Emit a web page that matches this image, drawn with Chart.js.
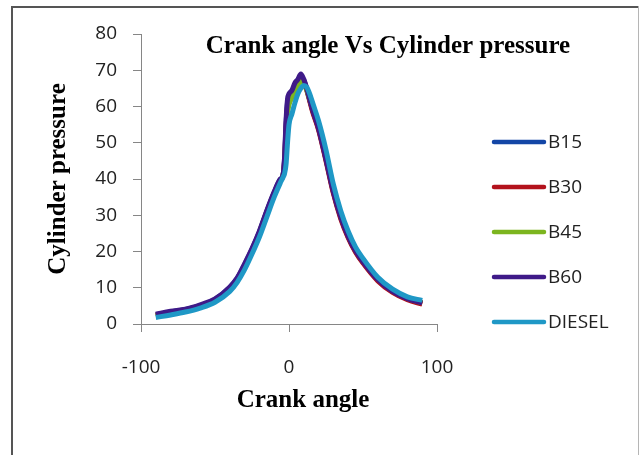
<!DOCTYPE html>
<html>
<head>
<meta charset="utf-8">
<title>Crank angle Vs Cylinder pressure</title>
<script src="https://cdn.jsdelivr.net/npm/chart.js@4.4.1/dist/chart.umd.min.js"></script>
<style>
  html, body { margin: 0; padding: 0; background: #fff; }
  #wrap { width: 641px; height: 455px; position: relative; }
</style>
</head>
<body>
<div id="wrap"><canvas id="myChart"></canvas></div>
<script>
// crank angle (deg) shared by all series
const angles = [-90, -80, -70, -60, -50, -40, -35, -30, -25, -20, -15, -10, -6, -4, -3, -2, -1, 0,
  2, 4, 6, 8, 10, 12, 14, 16, 20, 25, 30, 35, 40, 45, 50, 60, 70, 80, 90];

// cylinder pressure for each fuel
const b15 = [2.5, 3.3, 4.0, 5.1, 6.8, 10.1, 12.6, 16.4, 20.6, 25.4, 31.1, 36.3, 39.8, 41.2, 45.5, 55, 61, 63,
  64, 66, 67.2, 68.3, 67.2, 64.8, 61.8, 58.8, 53.8, 45.3, 36.3, 29.3, 24, 20, 17, 12.1, 8.9, 6.9, 5.7];
const b30 = [2.4, 3.2, 3.9, 5.0, 6.6, 9.9, 12.4, 16.1, 20.4, 25.2, 30.9, 36.1, 39.6, 41.1, 45, 54, 60, 62,
  63.5, 65.5, 66.8, 67.8, 66.8, 64.5, 61.5, 58.5, 53.5, 45, 36, 29, 23.8, 19.8, 16.8, 11.9, 8.7, 6.7, 5.5];
const b45 = [2.2, 3.0, 3.8, 4.9, 6.5, 9.7, 12.2, 15.8, 20.1, 24.9, 30.5, 35.8, 39.4, 41, 44, 52, 58, 60.5,
  62.5, 64.5, 66, 66.8, 66.3, 64.5, 62, 59.5, 54.8, 46.5, 37.4, 30.2, 24.8, 20.7, 17.6, 12.5, 9.2, 7.1, 5.9];
const b60 = [2.7, 3.5, 4.1, 5.3, 6.9, 10.2, 12.7, 16.6, 20.8, 25.6, 31.3, 36.5, 39.9, 41.2, 46, 56, 62, 63.5,
  64.5, 66.5, 67.5, 69, 67.5, 65, 62, 59, 54, 45.5, 36.5, 29.5, 24.2, 20.2, 17.2, 12.3, 9.0, 7.0, 5.8];
const diesel = [1.8, 2.5, 3.3, 4.4, 6.0, 9.0, 11.5, 15.0, 19.3, 24.0, 29.5, 35.0, 38.8, 40.5, 41.5, 44, 50, 55,
  58, 61, 63.5, 65, 65.8, 65.3, 63.5, 61, 56, 48, 38.5, 31.2, 25.6, 21.2, 18.1, 12.9, 9.6, 7.5, 6.5];

const seriesNames = ['B15', 'B30', 'B45', 'B60', 'DIESEL'];
const seriesValues = [b15, b30, b45, b60, diesel];
const seriesColors = ['#1346a6', '#b3121c', '#7cb51f', '#3f1a88', '#1f98c6'];

const xTicks = [-100, 0, 100];
const yTicks = [0, 10, 20, 30, 40, 50, 60, 70, 80];

const tickFont = { family: 'Open Sans', size: 19 };
const serifBold = 'bold 25px "Liberation Serif"';

// frame, title, x axis title and legend drawn on the canvas
const decor = {
  id: 'decor',
  beforeDraw(chart) {
    const c = chart.ctx;
    c.save();
    c.fillStyle = '#fff';
    c.fillRect(0, 0, chart.width, chart.height);
    c.fillStyle = '#555';
    c.fillRect(11, 6, 627, 2);
    c.fillRect(11, 6, 2, chart.height);
    c.fillStyle = '#b5b5b5';
    c.fillRect(638, 6, 1, chart.height);
    c.restore();
  },
  afterDraw(chart) {
    const c = chart.ctx;
    c.save();
    c.fillStyle = '#000';
    c.font = serifBold;
    c.textAlign = 'center';
    c.textBaseline = 'alphabetic';
    c.fillText('Crank angle Vs Cylinder pressure', 388, 52.5);
    c.fillText('Crank angle', 303, 406.5);

    // legend
    c.font = '19px "Open Sans"';
    c.textAlign = 'left';
    c.textBaseline = 'middle';
    chart.data.datasets.forEach(function (ds, i) {
      const y = 142 + i * 45;
      c.strokeStyle = ds.borderColor;
      c.lineWidth = 4.5;
      c.lineCap = 'round';
      c.beginPath();
      c.moveTo(494, y);
      c.lineTo(544, y);
      c.stroke();
      c.fillStyle = '#222';
      c.fillText(ds.label, 548, y + 1);
    });
    c.restore();
  }
};

const ctx = document.getElementById('myChart').getContext('2d');
const myChart = new Chart(ctx, {
  type: 'line',
  data: {
    datasets: seriesNames.map(function (name, i) {
      return {
        label: name,
        data: angles.map(function (a, j) { return { x: a, y: seriesValues[i][j] }; }),
        borderColor: seriesColors[i],
        backgroundColor: seriesColors[i],
        borderWidth: 5,
        pointRadius: 0,
        cubicInterpolationMode: 'monotone',
        order: seriesNames.length - i  // diesel on top
      };
    })
  },
  options: {
    responsive: true,
    maintainAspectRatio: false,
    animation: false,
    devicePixelRatio: 1,
    layout: { padding: { top: 34, right: 204, bottom: 0, left: 0 } },
    plugins: {
      legend: { display: false },
      tooltip: { enabled: false }
    },
    scales: {
      x: {
        type: 'linear',
        min: -100,
        max: 100,
        afterBuildTicks: function (scale) { scale.ticks = xTicks.map(function (v) { return { value: v }; }); },
        afterFit: function (scale) { scale.height = 131; },
        ticks: { font: tickFont, color: '#222', padding: 24, maxRotation: 0 },
        grid: { drawOnChartArea: false, tickLength: 8, color: '#868686' },
        border: { color: '#868686', width: 1 }
      },
      y: {
        min: 0,
        max: 80,
        afterBuildTicks: function (scale) { scale.ticks = yTicks.map(function (v) { return { value: v }; }); },
        afterFit: function (scale) { scale.width = 141; },
        ticks: { font: tickFont, color: '#222', padding: 16 },
        grid: { drawOnChartArea: false, tickLength: 8, color: '#868686' },
        border: { color: '#868686', width: 1 },
        title: {
          display: true,
          text: 'Cylinder pressure',
          color: '#000',
          font: { family: 'Liberation Serif', size: 25, weight: 'bold' },
          padding: { top: 44, bottom: 0 }
        }
      }
    }
  },
  plugins: [decor]
});
</script>
</body>
</html>
